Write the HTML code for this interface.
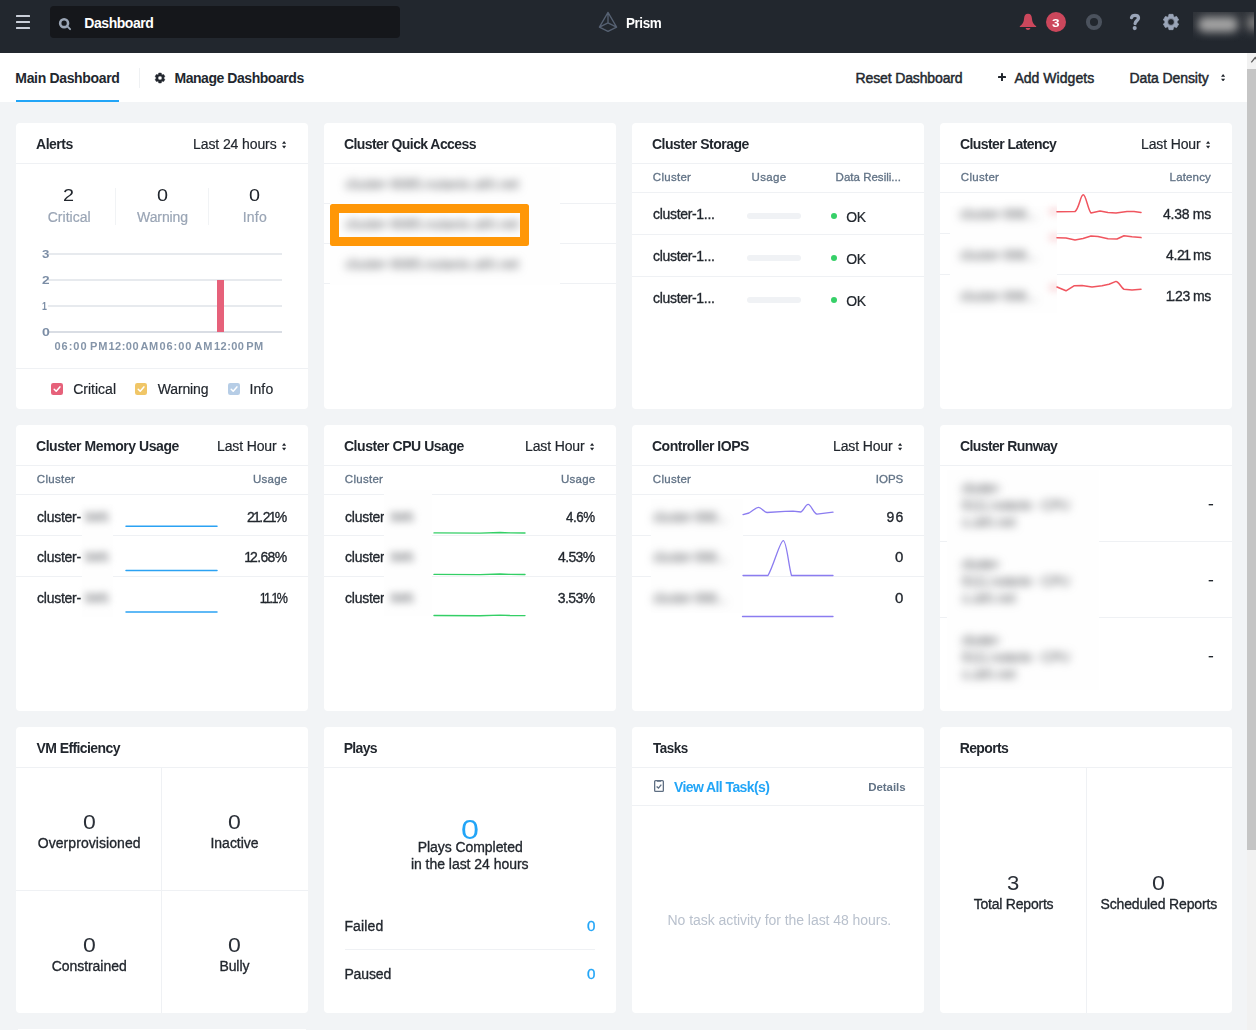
<!DOCTYPE html>
<html lang="en"><head><meta charset="utf-8"><title>Prism</title>
<style>
html,body{margin:0;padding:0}
html{width:1256px;height:1030px;overflow:hidden}
body{width:1256px;height:1030px;overflow:hidden;position:relative;background:#f2f4f6;
font-family:"Liberation Sans",sans-serif;font-size:14px;color:#22272e}
.r{position:absolute;display:block}
.t{position:absolute;white-space:nowrap;line-height:1;display:block}
.g{position:absolute;left:0;top:0;width:1256px;height:1030px;will-change:transform}
</style></head>
<body>
<div class="r" style="left:0px;top:0px;width:1256px;height:53px;background:#22272e;"></div>
<div class="r" style="left:0px;top:53px;width:1256px;height:49px;background:#fff;"></div>
<div class="r" style="left:16px;top:15px;width:14px;height:2px;background:#c9ced8;border-radius:0.5px;"></div>
<div class="r" style="left:16px;top:21px;width:14px;height:2px;background:#c9ced8;border-radius:0.5px;"></div>
<div class="r" style="left:16px;top:27px;width:14px;height:2px;background:#c9ced8;border-radius:0.5px;"></div>
<div class="r" style="left:50px;top:6px;width:350px;height:32px;background:#15171b;border-radius:4px;"></div>
<svg class="r" style="left:57px;top:16px" width="16" height="16" viewBox="0 0 16 16"><circle cx="7.1" cy="7.2" r="3.95" fill="none" stroke="#9aa5b5" stroke-width="2.6"/><path d="M10.6 10.7 L13.1 13.2" stroke="#9aa5b5" stroke-width="1.9" stroke-linecap="round"/></svg>
<svg class="r" style="left:597px;top:10px" width="22" height="24" viewBox="0 0 22 24"><path d="M11 2.4 L2.4 17.2 L11 21.4 L19.6 17.2 Z M11 2.4 L11 12.8 M11 12.8 L2.4 17.2 M11 12.8 L19.6 17.2" fill="none" stroke="#566172" stroke-width="1.3" stroke-linejoin="round" stroke-linecap="round"/></svg>
<svg class="r" style="left:1018px;top:12px" width="20" height="20" viewBox="0 0 20 20"><path d="M10 1.8 C7.3 1.8 6.3 3.8 6.1 6.2 C5.8 10.2 4.6 12.2 1.8 14.2 L1.8 15 L18.2 15 L18.2 14.2 C15.4 12.2 14.2 10.2 13.9 6.2 C13.7 3.8 12.7 1.8 10 1.8 Z" fill="#cc475c"/><path d="M7.6 16 L12.4 16 C12.2 17.3 11.2 18 10 18 C8.8 18 7.8 17.3 7.6 16 Z" fill="#cc475c"/></svg>
<div class="r" style="left:1045.8px;top:11.8px;width:20.3px;height:20.3px;background:#cc475c;border-radius:50%;"></div>
<svg class="r" style="left:1084px;top:12px" width="20" height="20" viewBox="0 0 20 20"><circle cx="10" cy="10" r="6.05" fill="none" stroke="#4b525d" stroke-width="4"/></svg>
<svg class="r" style="left:1127px;top:12px" width="16" height="20" viewBox="0 0 16 20"><path d="M4.5 5.6 C5 3.9 6.3 3.3 8 3.3 C10.2 3.3 11.5 4.5 11.5 6.1 C11.5 8.6 8.1 8.7 8.1 11.6" fill="none" stroke="#9aa5b8" stroke-width="3.3" stroke-linecap="round" stroke-linejoin="round"/><circle cx="7.7" cy="16.1" r="2.05" fill="#9aa5b8"/></svg>
<svg class="r" style="left:1161px;top:12px" width="20" height="20" viewBox="0 0 20 20"><path d="M12.38 4.38 L12.04 2.37 L7.96 2.37 L7.62 4.38 L6.33 5.13 L4.41 4.41 L2.37 7.96 L3.95 9.26 L3.95 10.74 L2.37 12.04 L4.41 15.59 L6.33 14.87 L7.62 15.62 L7.96 17.63 L12.04 17.63 L12.38 15.62 L13.67 14.87 L15.59 15.59 L17.63 12.04 L16.05 10.74 L16.05 9.26 L17.63 7.96 L15.59 4.41 L13.67 5.13 Z M10 6.6 A3.4 3.4 0 1 0 10 13.4 A3.4 3.4 0 1 0 10 6.6 Z" fill="#9aa5b8" fill-rule="evenodd" stroke="#9aa5b8" stroke-width="0.8" stroke-linejoin="round"/></svg>
<div class="r" style="left:1193px;top:12px;width:61px;height:30px;overflow:hidden;background:linear-gradient(#2f3339,#282c33 60%,#22272e)"><div class="r" style="left:5px;top:4.5px;width:40px;height:15px;background:#a4a4a4;filter:blur(4.5px);border-radius:7px"></div><div class="r" style="left:54px;top:4px;width:14px;height:14px;background:#7c7c7c;filter:blur(4px)"></div></div>
<div class="r" style="left:16px;top:100px;width:103px;height:2px;background:#22a5f7;"></div>
<div class="r" style="left:139px;top:68px;width:1px;height:20px;background:#eff1f3;"></div>
<svg class="r" style="left:154px;top:72px" width="12" height="12" viewBox="0 0 12 12"><path d="M7.59 2.44 L7.23 1.05 L4.77 1.05 L4.41 2.44 L3.71 2.84 L2.33 2.46 L1.10 4.59 L2.12 5.59 L2.12 6.41 L1.10 7.41 L2.33 9.54 L3.71 9.16 L4.41 9.56 L4.77 10.95 L7.23 10.95 L7.59 9.56 L8.29 9.16 L9.67 9.54 L10.90 7.41 L9.88 6.41 L9.88 5.59 L10.90 4.59 L9.67 2.46 L8.29 2.84 Z M6 3.95 A2.05 2.05 0 1 0 6 8.05 A2.05 2.05 0 1 0 6 3.95 Z" fill="#22272e" fill-rule="evenodd" stroke="#22272e" stroke-width="0.5" stroke-linejoin="round"/></svg>
<div class="r" style="left:997.9px;top:76px;width:8.2px;height:2px;background:#22272e;border-radius:0.6px;"></div>
<div class="r" style="left:1001px;top:73px;width:2px;height:8px;background:#22272e;border-radius:0.6px;"></div>
<svg class="r" style="left:1220.8px;top:73.9px" width="4.2" height="7.5" viewBox="0 0 4.2 7.5"><path d="M2.1 0 L4.2 2.8 L0 2.8 Z M0 4.7 L4.2 4.7 L2.1 7.5 Z" fill="#22272e"/></svg>
<div class="r" style="left:1247px;top:53px;width:9px;height:977px;background:#f1f1f1;"></div>
<div class="r" style="left:1247px;top:69px;width:9px;height:781px;background:#c5c5c5;"></div>
<svg class="r" style="left:1247px;top:53px" width="9" height="16" viewBox="0 0 9 16"><path d="M4.3 9.4 L8.2 4.6 L12 9.4" fill="none" stroke="#5a5a5a" stroke-width="1.3"/></svg>
<div class="r" style="left:16px;top:123px;width:292px;height:286px;background:#fff;border-radius:4px;"></div>
<div class="r" style="left:16px;top:163px;width:292px;height:1px;background:#eff1f4;"></div>
<div class="r" style="left:324px;top:123px;width:292px;height:286px;background:#fff;border-radius:4px;"></div>
<div class="r" style="left:324px;top:163px;width:292px;height:1px;background:#eff1f4;"></div>
<div class="r" style="left:632px;top:123px;width:292px;height:286px;background:#fff;border-radius:4px;"></div>
<div class="r" style="left:632px;top:163px;width:292px;height:1px;background:#eff1f4;"></div>
<div class="r" style="left:940px;top:123px;width:292px;height:286px;background:#fff;border-radius:4px;"></div>
<div class="r" style="left:940px;top:163px;width:292px;height:1px;background:#eff1f4;"></div>
<div class="r" style="left:16px;top:425px;width:292px;height:286px;background:#fff;border-radius:4px;"></div>
<div class="r" style="left:16px;top:465px;width:292px;height:1px;background:#eff1f4;"></div>
<div class="r" style="left:324px;top:425px;width:292px;height:286px;background:#fff;border-radius:4px;"></div>
<div class="r" style="left:324px;top:465px;width:292px;height:1px;background:#eff1f4;"></div>
<div class="r" style="left:632px;top:425px;width:292px;height:286px;background:#fff;border-radius:4px;"></div>
<div class="r" style="left:632px;top:465px;width:292px;height:1px;background:#eff1f4;"></div>
<div class="r" style="left:940px;top:425px;width:292px;height:286px;background:#fff;border-radius:4px;"></div>
<div class="r" style="left:940px;top:465px;width:292px;height:1px;background:#eff1f4;"></div>
<div class="r" style="left:16px;top:727px;width:292px;height:286px;background:#fff;border-radius:4px;"></div>
<div class="r" style="left:16px;top:767px;width:292px;height:1px;background:#eff1f4;"></div>
<div class="r" style="left:324px;top:727px;width:292px;height:286px;background:#fff;border-radius:4px;"></div>
<div class="r" style="left:324px;top:767px;width:292px;height:1px;background:#eff1f4;"></div>
<div class="r" style="left:632px;top:727px;width:292px;height:286px;background:#fff;border-radius:4px;"></div>
<div class="r" style="left:632px;top:767px;width:292px;height:1px;background:#eff1f4;"></div>
<div class="r" style="left:940px;top:727px;width:292px;height:286px;background:#fff;border-radius:4px;"></div>
<div class="r" style="left:940px;top:767px;width:292px;height:1px;background:#eff1f4;"></div>
<div class="r" style="left:18px;top:1029px;width:288px;height:1px;background:#fff;"></div>
<div class="r" style="left:115px;top:188px;width:1px;height:37px;background:#f1f3f5;"></div>
<div class="r" style="left:208px;top:188px;width:1px;height:37px;background:#f1f3f5;"></div>
<div class="r" style="left:48px;top:253.1px;width:234px;height:1.8px;background:#e7eaee;"></div>
<div class="r" style="left:48px;top:279.1px;width:234px;height:1.8px;background:#e7eaee;"></div>
<div class="r" style="left:48px;top:305.1px;width:234px;height:1.8px;background:#e7eaee;"></div>
<div class="r" style="left:48px;top:331.1px;width:234px;height:1.8px;background:#d9dde4;"></div>
<div class="r" style="left:217.2px;top:280px;width:6.6px;height:52px;background:#e6617a;"></div>
<div class="r" style="left:16px;top:368px;width:292px;height:1px;background:#eff1f4;"></div>
<svg class="r" style="left:51px;top:383px" width="12" height="12" viewBox="0 0 12 12"><rect width="12" height="12" rx="2.2" fill="#e6617a"/><path d="M3.2 6.2 L5.2 8.2 L8.9 3.9" fill="none" stroke="#fff" stroke-width="1.5" stroke-linecap="round" stroke-linejoin="round"/></svg>
<svg class="r" style="left:135px;top:383px" width="12" height="12" viewBox="0 0 12 12"><rect width="12" height="12" rx="2.2" fill="#f0c667"/><path d="M3.2 6.2 L5.2 8.2 L8.9 3.9" fill="none" stroke="#fff" stroke-width="1.5" stroke-linecap="round" stroke-linejoin="round"/></svg>
<svg class="r" style="left:228px;top:383px" width="12" height="12" viewBox="0 0 12 12"><rect width="12" height="12" rx="2.2" fill="#b6cde6"/><path d="M3.2 6.2 L5.2 8.2 L8.9 3.9" fill="none" stroke="#fff" stroke-width="1.5" stroke-linecap="round" stroke-linejoin="round"/></svg>
<svg class="r" style="left:281.8px;top:141.0px" width="4.2" height="7.5" viewBox="0 0 4.2 7.5"><path d="M2.1 0 L4.2 2.8 L0 2.8 Z M0 4.7 L4.2 4.7 L2.1 7.5 Z" fill="#22272e"/></svg>
<div class="r" style="left:324px;top:203px;width:292px;height:1px;background:#eff1f4;"></div>
<div class="r" style="left:324px;top:243px;width:292px;height:1px;background:#eff1f4;"></div>
<div class="r" style="left:324px;top:283px;width:292px;height:1px;background:#eff1f4;"></div>
<div class="r" style="left:632px;top:192px;width:292px;height:1px;background:#eff1f4;"></div>
<div class="r" style="left:632px;top:234px;width:292px;height:1px;background:#eff1f4;"></div>
<div class="r" style="left:632px;top:276px;width:292px;height:1px;background:#eff1f4;"></div>
<div class="r" style="left:747px;top:213px;width:54px;height:6px;background:#f0f2f5;border-radius:3px;"></div>
<div class="r" style="left:831px;top:213px;width:6px;height:6px;background:#36d068;border-radius:50%;"></div>
<div class="r" style="left:747px;top:255px;width:54px;height:6px;background:#f0f2f5;border-radius:3px;"></div>
<div class="r" style="left:831px;top:255px;width:6px;height:6px;background:#36d068;border-radius:50%;"></div>
<div class="r" style="left:747px;top:297px;width:54px;height:6px;background:#f0f2f5;border-radius:3px;"></div>
<div class="r" style="left:831px;top:297px;width:6px;height:6px;background:#36d068;border-radius:50%;"></div>
<div class="r" style="left:940px;top:192px;width:292px;height:1px;background:#eff1f4;"></div>
<div class="r" style="left:940px;top:233px;width:292px;height:1px;background:#eff1f4;"></div>
<div class="r" style="left:940px;top:274px;width:292px;height:1px;background:#eff1f4;"></div>
<svg class="r" style="left:1205.8px;top:141.0px" width="4.2" height="7.5" viewBox="0 0 4.2 7.5"><path d="M2.1 0 L4.2 2.8 L0 2.8 Z M0 4.7 L4.2 4.7 L2.1 7.5 Z" fill="#22272e"/></svg>
<div class="r" style="left:16px;top:494px;width:292px;height:1px;background:#eff1f4;"></div>
<div class="r" style="left:16px;top:535px;width:292px;height:1px;background:#eff1f4;"></div>
<div class="r" style="left:16px;top:576px;width:292px;height:1px;background:#eff1f4;"></div>
<div class="r" style="left:324px;top:494px;width:292px;height:1px;background:#eff1f4;"></div>
<div class="r" style="left:324px;top:535px;width:292px;height:1px;background:#eff1f4;"></div>
<div class="r" style="left:324px;top:576px;width:292px;height:1px;background:#eff1f4;"></div>
<div class="r" style="left:632px;top:494px;width:292px;height:1px;background:#eff1f4;"></div>
<div class="r" style="left:632px;top:535px;width:292px;height:1px;background:#eff1f4;"></div>
<div class="r" style="left:632px;top:576px;width:292px;height:1px;background:#eff1f4;"></div>
<svg class="r" style="left:281.8px;top:443.0px" width="4.2" height="7.5" viewBox="0 0 4.2 7.5"><path d="M2.1 0 L4.2 2.8 L0 2.8 Z M0 4.7 L4.2 4.7 L2.1 7.5 Z" fill="#22272e"/></svg>
<svg class="r" style="left:589.8px;top:443.0px" width="4.2" height="7.5" viewBox="0 0 4.2 7.5"><path d="M2.1 0 L4.2 2.8 L0 2.8 Z M0 4.7 L4.2 4.7 L2.1 7.5 Z" fill="#22272e"/></svg>
<svg class="r" style="left:897.8px;top:443.0px" width="4.2" height="7.5" viewBox="0 0 4.2 7.5"><path d="M2.1 0 L4.2 2.8 L0 2.8 Z M0 4.7 L4.2 4.7 L2.1 7.5 Z" fill="#22272e"/></svg>
<div class="r" style="left:940px;top:541px;width:292px;height:1px;background:#eff1f4;"></div>
<div class="r" style="left:940px;top:617px;width:292px;height:1px;background:#eff1f4;"></div>
<div class="r" style="left:16px;top:890px;width:292px;height:1px;background:#eff1f4;"></div>
<div class="r" style="left:161px;top:768px;width:1px;height:245px;background:#eff1f4;"></div>
<div class="r" style="left:345.4px;top:949px;width:249.4px;height:1px;background:#eff1f4;"></div>
<div class="r" style="left:632px;top:805px;width:292px;height:1px;background:#eff1f4;"></div>
<svg class="r" style="left:653px;top:779px" width="12" height="14" viewBox="0 0 12 14"><rect x="1.65" y="1.65" width="8.7" height="10.7" rx="0.9" fill="none" stroke="#5f6f83" stroke-width="1.3"/><rect x="3.9" y="1.3" width="4.2" height="1.5" rx="0.4" fill="#5f6f83"/><path d="M3.6 7.4 L5.5 9.1 L8.3 5.6" fill="none" stroke="#5f6f83" stroke-width="1.35"/></svg>
<div class="r" style="left:1086px;top:768px;width:1px;height:245px;background:#eff1f4;"></div>
<div class="r" style="left:330px;top:167px;width:230px;height:118px;background:#fefefe;"></div>
<div class="r" style="left:950px;top:206px;width:107px;height:107px;background:#fefefe;"></div>
<div class="r" style="left:81.5px;top:504px;width:31.5px;height:113px;background:#fefefe;"></div>
<div class="r" style="left:651px;top:499px;width:92px;height:114px;background:#fefefe;"></div>
<div class="r" style="left:946.5px;top:470px;width:152.5px;height:220px;background:#fefefe;"></div>
<div class="r" style="left:1030px;top:196px;width:27px;height:116px;overflow:hidden"><div class="r" style="left:19px;top:12px;width:12px;height:7px;background:#fbdcde;filter:blur(3.5px)"></div><div class="r" style="left:19px;top:38px;width:12px;height:7px;background:#fbdcde;filter:blur(3.5px)"></div><div class="r" style="left:19px;top:88px;width:12px;height:7px;background:#fbdcde;filter:blur(3.5px)"></div></div>
<svg class="r" style="left:0;top:0" width="1256" height="1030" viewBox="0 0 1256 1030" fill="none" stroke-linejoin="round" stroke-linecap="round">
<path stroke="#f0555f" stroke-width="1.55" d="M1057 211.7 L1075 211.5 C1079 209 1080.5 194.8 1083.2 194.8 C1086 194.8 1088 210 1091 213 L1100 211 L1108 212.6 L1116 213 L1127 211.6 L1134 211.5 L1141 212.4"/>
<path stroke="#f0555f" stroke-width="1.55" d="M1057 237.8 L1066 238 L1075 240 L1083 238.5 L1091 236 L1098 236.4 L1108 238.8 L1117 239 L1124 235.8 L1132 236.8 L1141 237.6"/>
<path stroke="#f0555f" stroke-width="1.55" d="M1057 287 L1066 290.8 L1074 285.8 L1082 285.6 L1092 286.9 L1102 285.8 L1109 284.3 L1116 281.4 C1119 281.4 1121 288 1124 289.2 L1132 289.9 L1141 289.3"/>
<path stroke="#2ba2f3" stroke-width="1.5" d="M126 526.3 L217 526.3"/>
<path stroke="#2ba2f3" stroke-width="1.5" d="M126 570.5 L217 570.5"/>
<path stroke="#2ba2f3" stroke-width="1.5" d="M126 611.9 L217 611.9"/>
<path stroke="#34cf66" stroke-width="1.4" d="M434 532.9 L480 533.1 L500 532.5 L510 532.9 L525 533.0"/>
<path stroke="#34cf66" stroke-width="1.4" d="M434 574.4 L480 574.6 L500 574.0 L510 574.4 L525 574.5"/>
<path stroke="#34cf66" stroke-width="1.4" d="M434 615.5 L480 615.7 L500 615.1 L510 615.5 L525 615.6"/>
<path stroke="#8b7cf0" stroke-width="1.3" d="M743 514.6 L749 513 C753 511 755.5 507.4 758.5 507.4 C761.5 507.4 764 512.2 767 512.5 L785 511.4 L793 511.2 L801 512 C804 510 805.5 504.4 808.2 504.4 C811 504.4 813.5 513.5 817 514.2 L825 513.2 L833 512.2"/>
<path stroke="#8b7cf0" stroke-width="1.3" d="M743 575.5 L768 575.5 C774 565 780 540.6 783.3 540.6 C786.5 540.6 788.5 565 791.5 575.5 L833 575.5"/>
<path stroke="#8b7cf0" stroke-width="1.3" d="M742.5 616.5 L833 616.5"/>
</svg>
<span class="t" style="left:84.33px;top:16.20px;font-size:14px;color:#fff;font-weight:700;letter-spacing:-0.457px;">Dashboard</span>
<span class="t" style="left:626.36px;top:16.10px;font-size:14px;color:#fff;font-weight:700;letter-spacing:-0.450px;transform:scaleX(0.9610);transform-origin:0 0;">Prism</span>
<span class="t" style="left:1052.39px;top:18.00px;font-size:11px;color:#fff;font-weight:700;transform:scaleX(1.2342);transform-origin:0 0;">3</span>
<span class="t" style="left:15.32px;top:71.00px;font-size:14px;color:#22272e;font-weight:700;letter-spacing:-0.333px;">Main Dashboard</span>
<span class="t" style="left:174.43px;top:71.00px;font-size:14px;color:#22272e;font-weight:700;letter-spacing:-0.449px;">Manage Dashboards</span>
<span class="t" style="left:855.61px;top:71.00px;font-size:14px;color:#22272e;letter-spacing:-0.141px;-webkit-text-stroke:0.45px #22272e;">Reset Dashboard</span>
<span class="t" style="left:1014.40px;top:71.00px;font-size:14px;color:#22272e;letter-spacing:0.037px;-webkit-text-stroke:0.45px #22272e;">Add Widgets</span>
<span class="t" style="left:1129.51px;top:71.00px;font-size:14px;color:#22272e;letter-spacing:-0.086px;-webkit-text-stroke:0.45px #22272e;">Data Density</span>
<div class="g">
<span class="t" style="left:36.08px;top:137.00px;font-size:14px;color:#22272e;font-weight:700;letter-spacing:-0.519px;">Alerts</span>
<span class="t" style="left:343.96px;top:137.00px;font-size:14px;color:#22272e;font-weight:700;letter-spacing:-0.571px;">Cluster Quick Access</span>
<span class="t" style="left:651.96px;top:137.00px;font-size:14px;color:#22272e;font-weight:700;letter-spacing:-0.490px;">Cluster Storage</span>
<span class="t" style="left:959.96px;top:137.00px;font-size:14px;color:#22272e;font-weight:700;letter-spacing:-0.578px;">Cluster Latency</span>
<span class="t" style="left:35.96px;top:439.00px;font-size:14px;color:#22272e;font-weight:700;letter-spacing:-0.438px;">Cluster Memory Usage</span>
<span class="t" style="left:343.96px;top:439.00px;font-size:14px;color:#22272e;font-weight:700;letter-spacing:-0.450px;">Cluster CPU Usage</span>
<span class="t" style="left:651.96px;top:439.00px;font-size:14px;color:#22272e;font-weight:700;letter-spacing:-0.488px;">Controller IOPS</span>
<span class="t" style="left:959.96px;top:439.00px;font-size:14px;color:#22272e;font-weight:700;letter-spacing:-0.604px;">Cluster Runway</span>
<span class="t" style="left:36.50px;top:741.00px;font-size:14px;color:#22272e;font-weight:700;letter-spacing:-0.585px;">VM Efficiency</span>
<span class="t" style="left:343.73px;top:741.00px;font-size:14px;color:#22272e;font-weight:700;letter-spacing:-0.686px;">Plays</span>
<span class="t" style="left:652.50px;top:741.00px;font-size:14px;color:#22272e;font-weight:700;letter-spacing:-0.450px;transform:scaleX(0.9562);transform-origin:0 0;">Tasks</span>
<span class="t" style="left:959.73px;top:741.00px;font-size:14px;color:#22272e;font-weight:700;letter-spacing:-0.642px;">Reports</span>
<span class="t" style="left:193.11px;top:137.00px;font-size:14px;color:#22272e;letter-spacing:-0.109px;-webkit-text-stroke:0.18px #22272e;">Last 24 hours</span>
<span class="t" style="left:1141.11px;top:137.00px;font-size:14px;color:#22272e;letter-spacing:-0.154px;-webkit-text-stroke:0.18px #22272e;">Last Hour</span>
<span class="t" style="left:217.11px;top:439.00px;font-size:14px;color:#22272e;letter-spacing:-0.154px;-webkit-text-stroke:0.18px #22272e;">Last Hour</span>
<span class="t" style="left:525.11px;top:439.00px;font-size:14px;color:#22272e;letter-spacing:-0.154px;-webkit-text-stroke:0.18px #22272e;">Last Hour</span>
<span class="t" style="left:833.11px;top:439.00px;font-size:14px;color:#22272e;letter-spacing:-0.154px;-webkit-text-stroke:0.18px #22272e;">Last Hour</span>
<span class="t" style="left:63.47px;top:187.20px;font-size:17px;color:#22272e;transform:scaleX(1.1671);transform-origin:0 0;">2</span>
<span class="t" style="left:156.58px;top:187.20px;font-size:17px;color:#22272e;transform:scaleX(1.1647);transform-origin:0 0;">0</span>
<span class="t" style="left:249.38px;top:187.20px;font-size:17px;color:#22272e;transform:scaleX(1.1647);transform-origin:0 0;">0</span>
<span class="t" style="left:47.74px;top:210.20px;font-size:14px;color:#9aa5b5;letter-spacing:0.014px;-webkit-text-stroke:0.2px #9aa5b5;">Critical</span>
<span class="t" style="left:137.10px;top:210.20px;font-size:14px;color:#9aa5b5;letter-spacing:-0.104px;-webkit-text-stroke:0.2px #9aa5b5;">Warning</span>
<span class="t" style="left:242.71px;top:210.20px;font-size:14px;color:#9aa5b5;letter-spacing:0.237px;-webkit-text-stroke:0.2px #9aa5b5;">Info</span>
<span class="t" style="left:41.79px;top:249.20px;font-size:11px;color:#7b8da5;font-weight:700;transform:scaleX(1.1989);transform-origin:0 0;">3</span>
<span class="t" style="left:41.58px;top:275.20px;font-size:11px;color:#7b8da5;font-weight:700;transform:scaleX(1.2364);transform-origin:0 0;">2</span>
<span class="t" style="left:42.39px;top:301.20px;font-size:11px;color:#7b8da5;font-weight:700;transform:scaleX(0.8000);transform-origin:0 0;">1</span>
<span class="t" style="left:41.56px;top:327.20px;font-size:11px;color:#7b8da5;font-weight:700;transform:scaleX(1.2762);transform-origin:0 0;">0</span>
<span class="t" style="left:54.56px;top:341.10px;font-size:11px;color:#8595a9;font-weight:700;letter-spacing:0.960px;word-spacing:-1.6px;">06:00 PM</span>
<span class="t" style="left:108.51px;top:341.10px;font-size:11px;color:#8595a9;font-weight:700;letter-spacing:0.466px;word-spacing:-1.6px;">12:00 AM</span>
<span class="t" style="left:159.46px;top:341.10px;font-size:11px;color:#8595a9;font-weight:700;letter-spacing:0.959px;word-spacing:-1.6px;">06:00 AM</span>
<span class="t" style="left:214.01px;top:341.10px;font-size:11px;color:#8595a9;font-weight:700;letter-spacing:0.452px;word-spacing:-1.6px;">12:00 PM</span>
<span class="t" style="left:73.14px;top:382.00px;font-size:14px;color:#22272e;letter-spacing:0.014px;-webkit-text-stroke:0.18px #22272e;">Critical</span>
<span class="t" style="left:157.80px;top:382.00px;font-size:14px;color:#22272e;letter-spacing:-0.154px;-webkit-text-stroke:0.18px #22272e;">Warning</span>
<span class="t" style="left:249.41px;top:382.00px;font-size:14px;color:#22272e;letter-spacing:0.137px;-webkit-text-stroke:0.18px #22272e;">Info</span>
<span class="t" style="left:345.56px;top:177.00px;font-size:14px;color:#5a5c61;letter-spacing:-0.093px;filter:blur(4.2px);">cluster-9085.nutanix.ukh.net</span>
<span class="t" style="left:345.56px;top:217.00px;font-size:14px;color:#5a5c61;letter-spacing:-0.093px;filter:blur(4.2px);">cluster-9085.nutanix.ukh.net</span>
<span class="t" style="left:345.56px;top:257.00px;font-size:14px;color:#5a5c61;letter-spacing:-0.093px;filter:blur(4.2px);">cluster-9085.nutanix.ukh.net</span>
<span class="t" style="left:652.86px;top:171.90px;font-size:11.5px;color:#627386;letter-spacing:0.278px;-webkit-text-stroke:0.32px #627386;">Cluster</span>
<span class="t" style="left:751.48px;top:171.90px;font-size:11.5px;color:#627386;letter-spacing:0.361px;-webkit-text-stroke:0.32px #627386;">Usage</span>
<span class="t" style="left:835.60px;top:171.90px;font-size:11.5px;color:#627386;letter-spacing:0.012px;-webkit-text-stroke:0.32px #627386;">Data Resili...</span>
<span class="t" style="left:653.06px;top:207.00px;font-size:14px;color:#22272e;letter-spacing:-0.323px;-webkit-text-stroke:0.32px #22272e;">cluster-1...</span>
<span class="t" style="left:846.34px;top:210.20px;font-size:14px;color:#22272e;letter-spacing:-0.421px;-webkit-text-stroke:0.18px #22272e;">OK</span>
<span class="t" style="left:653.06px;top:249.00px;font-size:14px;color:#22272e;letter-spacing:-0.323px;-webkit-text-stroke:0.32px #22272e;">cluster-1...</span>
<span class="t" style="left:846.34px;top:252.20px;font-size:14px;color:#22272e;letter-spacing:-0.421px;-webkit-text-stroke:0.18px #22272e;">OK</span>
<span class="t" style="left:653.06px;top:291.00px;font-size:14px;color:#22272e;letter-spacing:-0.323px;-webkit-text-stroke:0.32px #22272e;">cluster-1...</span>
<span class="t" style="left:846.34px;top:294.20px;font-size:14px;color:#22272e;letter-spacing:-0.421px;-webkit-text-stroke:0.18px #22272e;">OK</span>
<span class="t" style="left:960.86px;top:171.90px;font-size:11.5px;color:#627386;letter-spacing:0.278px;-webkit-text-stroke:0.32px #627386;">Cluster</span>
<span class="t" style="left:1169.60px;top:171.90px;font-size:11.5px;color:#627386;letter-spacing:0.153px;-webkit-text-stroke:0.32px #627386;">Latency</span>
<span class="t" style="left:1162.98px;top:206.60px;font-size:14px;color:#22272e;letter-spacing:-0.257px;-webkit-text-stroke:0.32px #22272e;">4.38 ms</span>
<span class="t" style="left:1165.98px;top:247.80px;font-size:14px;color:#22272e;letter-spacing:-0.324px;-webkit-text-stroke:0.32px #22272e;">4.2<i style="font-style:normal;margin:0 -1.3px">1</i> ms</span>
<span class="t" style="left:1167.02px;top:288.90px;font-size:14px;color:#22272e;letter-spacing:-0.498px;-webkit-text-stroke:0.32px #22272e;"><i style="font-style:normal;margin:0 -1.3px">1</i>.23 ms</span>
<span class="t" style="left:960.06px;top:206.60px;font-size:14px;color:#5a5c61;letter-spacing:-0.286px;filter:blur(4.2px);">cluster-998...</span>
<span class="t" style="left:960.06px;top:247.80px;font-size:14px;color:#5a5c61;letter-spacing:-0.286px;filter:blur(4.2px);">cluster-998...</span>
<span class="t" style="left:960.06px;top:288.90px;font-size:14px;color:#5a5c61;letter-spacing:-0.286px;filter:blur(4.2px);">cluster-998...</span>
<span class="t" style="left:36.86px;top:473.90px;font-size:11.5px;color:#627386;letter-spacing:0.278px;-webkit-text-stroke:0.32px #627386;">Cluster</span>
<span class="t" style="left:252.88px;top:473.90px;font-size:11.5px;color:#627386;letter-spacing:0.286px;-webkit-text-stroke:0.32px #627386;">Usage</span>
<span class="t" style="left:37.06px;top:509.60px;font-size:14px;color:#22272e;letter-spacing:-0.265px;-webkit-text-stroke:0.32px #22272e;">cluster-</span>
<span class="t" style="left:83.84px;top:509.60px;font-size:14px;color:#85878b;letter-spacing:-1.807px;filter:blur(3.6px);">9985</span>
<span class="t" style="left:247.04px;top:509.60px;font-size:14px;color:#22272e;letter-spacing:-0.422px;-webkit-text-stroke:0.32px #22272e;">2<i style="font-style:normal;margin:0 -1.3px">1</i>.2<i style="font-style:normal;margin:0 -1.3px">1</i>%</span>
<span class="t" style="left:37.06px;top:550.40px;font-size:14px;color:#22272e;letter-spacing:-0.265px;-webkit-text-stroke:0.32px #22272e;">cluster-</span>
<span class="t" style="left:83.84px;top:550.40px;font-size:14px;color:#85878b;letter-spacing:-1.807px;filter:blur(3.6px);">9985</span>
<span class="t" style="left:245.43px;top:550.40px;font-size:14px;color:#22272e;letter-spacing:-0.618px;-webkit-text-stroke:0.32px #22272e;"><i style="font-style:normal;margin:0 -1.3px">1</i>2.68%</span>
<span class="t" style="left:37.06px;top:591.20px;font-size:14px;color:#22272e;letter-spacing:-0.265px;-webkit-text-stroke:0.32px #22272e;">cluster-</span>
<span class="t" style="left:83.84px;top:591.20px;font-size:14px;color:#85878b;letter-spacing:-1.807px;filter:blur(3.6px);">9985</span>
<span class="t" style="left:261.18px;top:591.20px;font-size:14px;color:#22272e;letter-spacing:-0.450px;-webkit-text-stroke:0.32px #22272e;transform:scaleX(0.8945);transform-origin:0 0;"><i style="font-style:normal;margin:0 -1.3px">1</i><i style="font-style:normal;margin:0 -1.3px">1</i>.<i style="font-style:normal;margin:0 -1.3px">1</i>%</span>
<span class="t" style="left:344.86px;top:473.90px;font-size:11.5px;color:#627386;letter-spacing:0.278px;-webkit-text-stroke:0.32px #627386;">Cluster</span>
<span class="t" style="left:560.88px;top:473.90px;font-size:11.5px;color:#627386;letter-spacing:0.286px;-webkit-text-stroke:0.32px #627386;">Usage</span>
<span class="t" style="left:345.06px;top:509.60px;font-size:14px;color:#22272e;letter-spacing:-0.265px;-webkit-text-stroke:0.32px #22272e;">cluster-</span>
<span class="t" style="left:566.09px;top:509.60px;font-size:14px;color:#22272e;letter-spacing:-0.450px;-webkit-text-stroke:0.32px #22272e;transform:scaleX(0.9524);transform-origin:0 0;">4.6%</span>
<span class="t" style="left:345.06px;top:550.40px;font-size:14px;color:#22272e;letter-spacing:-0.265px;-webkit-text-stroke:0.32px #22272e;">cluster-</span>
<span class="t" style="left:557.98px;top:550.40px;font-size:14px;color:#22272e;letter-spacing:-0.615px;-webkit-text-stroke:0.32px #22272e;">4.53%</span>
<span class="t" style="left:345.06px;top:591.20px;font-size:14px;color:#22272e;letter-spacing:-0.265px;-webkit-text-stroke:0.32px #22272e;">cluster-</span>
<span class="t" style="left:557.76px;top:591.20px;font-size:14px;color:#22272e;letter-spacing:-0.560px;-webkit-text-stroke:0.32px #22272e;">3.53%</span>
<span class="t" style="left:652.86px;top:473.90px;font-size:11.5px;color:#627386;letter-spacing:0.278px;-webkit-text-stroke:0.32px #627386;">Cluster</span>
<span class="t" style="left:875.70px;top:473.90px;font-size:11.5px;color:#627386;letter-spacing:0.033px;-webkit-text-stroke:0.32px #627386;">IOPS</span>
<span class="t" style="left:653.06px;top:509.60px;font-size:14px;color:#5a5c61;letter-spacing:-0.517px;filter:blur(4.2px);">cluster-998...</span>
<span class="t" style="left:886.54px;top:509.60px;font-size:14px;color:#22272e;letter-spacing:1.251px;-webkit-text-stroke:0.32px #22272e;">96</span>
<span class="t" style="left:653.06px;top:550.40px;font-size:14px;color:#5a5c61;letter-spacing:-0.517px;filter:blur(4.2px);">cluster-998...</span>
<span class="t" style="left:894.83px;top:550.40px;font-size:14px;color:#22272e;-webkit-text-stroke:0.32px #22272e;transform:scaleX(1.0714);transform-origin:0 0;">0</span>
<span class="t" style="left:653.06px;top:591.20px;font-size:14px;color:#5a5c61;letter-spacing:-0.517px;filter:blur(4.2px);">cluster-998...</span>
<span class="t" style="left:894.83px;top:591.20px;font-size:14px;color:#22272e;-webkit-text-stroke:0.32px #22272e;transform:scaleX(1.0714);transform-origin:0 0;">0</span>
<span class="t" style="left:961.56px;top:481.00px;font-size:14px;color:#5a5c61;letter-spacing:-0.850px;filter:blur(4.2px);">cluster-</span>
<span class="t" style="left:961.34px;top:497.50px;font-size:14px;color:#5a5c61;letter-spacing:-0.678px;filter:blur(4.2px);">9111.nutanix - CPU</span>
<span class="t" style="left:961.78px;top:514.50px;font-size:14px;color:#5a5c61;letter-spacing:-0.330px;filter:blur(4.2px);">s.ukh.net</span>
<span class="t" style="left:1208.06px;top:497.40px;font-size:14px;color:#22272e;-webkit-text-stroke:0.1px #22272e;transform:scaleX(1.2370);transform-origin:0 0;">-</span>
<span class="t" style="left:961.56px;top:557.00px;font-size:14px;color:#5a5c61;letter-spacing:-0.850px;filter:blur(4.2px);">cluster-</span>
<span class="t" style="left:961.34px;top:573.50px;font-size:14px;color:#5a5c61;letter-spacing:-0.678px;filter:blur(4.2px);">9111.nutanix - CPU</span>
<span class="t" style="left:961.78px;top:590.50px;font-size:14px;color:#5a5c61;letter-spacing:-0.330px;filter:blur(4.2px);">s.ukh.net</span>
<span class="t" style="left:1208.06px;top:573.40px;font-size:14px;color:#22272e;-webkit-text-stroke:0.1px #22272e;transform:scaleX(1.2370);transform-origin:0 0;">-</span>
<span class="t" style="left:961.56px;top:633.00px;font-size:14px;color:#5a5c61;letter-spacing:-0.850px;filter:blur(4.2px);">cluster-</span>
<span class="t" style="left:961.34px;top:649.50px;font-size:14px;color:#5a5c61;letter-spacing:-0.678px;filter:blur(4.2px);">9111.nutanix - CPU</span>
<span class="t" style="left:961.78px;top:666.50px;font-size:14px;color:#5a5c61;letter-spacing:-0.330px;filter:blur(4.2px);">s.ukh.net</span>
<span class="t" style="left:1208.06px;top:649.40px;font-size:14px;color:#22272e;-webkit-text-stroke:0.1px #22272e;transform:scaleX(1.2370);transform-origin:0 0;">-</span>
<span class="t" style="left:82.58px;top:811.70px;font-size:20px;color:#2b3038;transform:scaleX(1.1500);transform-origin:0 0;">0</span>
<span class="t" style="left:228.28px;top:811.70px;font-size:20px;color:#2b3038;transform:scaleX(1.1500);transform-origin:0 0;">0</span>
<span class="t" style="left:82.58px;top:934.60px;font-size:20px;color:#2b3038;transform:scaleX(1.1500);transform-origin:0 0;">0</span>
<span class="t" style="left:228.28px;top:934.60px;font-size:20px;color:#2b3038;transform:scaleX(1.1500);transform-origin:0 0;">0</span>
<span class="t" style="left:37.74px;top:836.20px;font-size:14px;color:#22272e;letter-spacing:0.065px;-webkit-text-stroke:0.32px #22272e;">Overprovisioned</span>
<span class="t" style="left:210.51px;top:836.20px;font-size:14px;color:#22272e;letter-spacing:-0.027px;-webkit-text-stroke:0.32px #22272e;">Inactive</span>
<span class="t" style="left:51.64px;top:959.20px;font-size:14px;color:#22272e;letter-spacing:-0.045px;-webkit-text-stroke:0.32px #22272e;">Constrained</span>
<span class="t" style="left:219.41px;top:959.20px;font-size:14px;color:#22272e;letter-spacing:-0.088px;-webkit-text-stroke:0.32px #22272e;">Bully</span>
<span class="t" style="left:460.89px;top:816.00px;font-size:28px;color:#22a5f7;transform:scaleX(1.1500);transform-origin:0 0;">0</span>
<span class="t" style="left:417.81px;top:840.10px;font-size:14px;color:#22272e;letter-spacing:-0.068px;-webkit-text-stroke:0.32px #22272e;">Plays Completed</span>
<span class="t" style="left:410.93px;top:857.00px;font-size:14px;color:#22272e;letter-spacing:-0.036px;-webkit-text-stroke:0.32px #22272e;">in the last 24 hours</span>
<span class="t" style="left:344.41px;top:919.20px;font-size:14px;color:#22272e;letter-spacing:0.130px;-webkit-text-stroke:0.32px #22272e;">Failed</span>
<span class="t" style="left:344.41px;top:967.20px;font-size:14px;color:#22272e;letter-spacing:-0.141px;-webkit-text-stroke:0.32px #22272e;">Paused</span>
<span class="t" style="left:586.63px;top:919.20px;font-size:14px;color:#22a5f7;-webkit-text-stroke:0.32px #22a5f7;transform:scaleX(1.0857);transform-origin:0 0;">0</span>
<span class="t" style="left:586.63px;top:967.20px;font-size:14px;color:#22a5f7;-webkit-text-stroke:0.32px #22a5f7;transform:scaleX(1.0857);transform-origin:0 0;">0</span>
<span class="t" style="left:673.90px;top:780.20px;font-size:14px;color:#22a5f7;font-weight:700;letter-spacing:-0.580px;">View All Task(s)</span>
<span class="t" style="left:868.18px;top:781.80px;font-size:11.5px;color:#627386;font-weight:700;letter-spacing:-0.055px;">Details</span>
<span class="t" style="left:667.51px;top:912.90px;font-size:14px;color:#b9c1cd;letter-spacing:-0.050px;">No task activity for the last 48 hours.</span>
<span class="t" style="left:1007.01px;top:872.70px;font-size:20px;color:#2b3038;transform:scaleX(1.1045);transform-origin:0 0;">3</span>
<span class="t" style="left:1152.38px;top:872.70px;font-size:20px;color:#2b3038;transform:scaleX(1.1600);transform-origin:0 0;">0</span>
<span class="t" style="left:973.68px;top:897.30px;font-size:14px;color:#22272e;letter-spacing:-0.211px;-webkit-text-stroke:0.32px #22272e;">Total Reports</span>
<span class="t" style="left:1100.56px;top:897.30px;font-size:14px;color:#22272e;letter-spacing:-0.156px;-webkit-text-stroke:0.32px #22272e;">Scheduled Reports</span>
<div class="r" style="left:384px;top:490px;width:47.5px;height:126px;background:#fefefe;"></div>
<span class="t" style="left:389.34px;top:509.60px;font-size:14px;color:#85878b;letter-spacing:-1.974px;filter:blur(3.6px);">9985</span>
<span class="t" style="left:389.34px;top:550.40px;font-size:14px;color:#85878b;letter-spacing:-1.974px;filter:blur(3.6px);">9985</span>
<span class="t" style="left:389.34px;top:591.20px;font-size:14px;color:#85878b;letter-spacing:-1.974px;filter:blur(3.6px);">9985</span>
</div>
<div class="r" style="left:330px;top:204px;width:199px;height:41.6px;box-sizing:border-box;border:9px solid #ff9707;border-radius:2.5px;z-index:6;"></div>
</body></html>
